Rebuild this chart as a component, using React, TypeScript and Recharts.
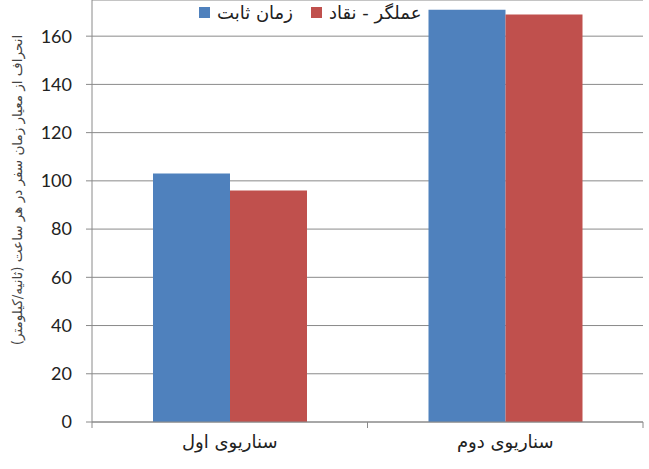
import { Bar, BarChart, CartesianGrid, XAxis, YAxis } from 'recharts'

const scenarios = ['سناریوی اول', 'سناریوی دوم']
const fixedTime = [103, 171]
const actorCritic = [96, 169]
const yTicks = [0, 20, 40, 60, 80, 100, 120, 140, 160]

const seriesNames = ['زمان ثابت', 'عملگر - نقاد']
const seriesColors = ['#4F81BD', '#C0504D']
const yLabel = 'انحراف از معیار زمان سفر در هر ساعت  (ثانیه/کیلومتر)'

const data = scenarios.map((name, i) => ({ name, fixed: fixedTime[i], ac: actorCritic[i] }))

const gridColor = '#8a8a8a'
const persianFont = '"DejaVu Sans", sans-serif'

function CategoryTick({ x, y, payload, index, visibleTicksCount, width }: any) {
  const half = payload?.offset ?? width / (2 * visibleTicksCount)
  const isLast = index === visibleTicksCount - 1
  return (
    <g>
      <line x1={x - half} x2={x - half} y1={y} y2={y + 6} stroke={gridColor} />
      {isLast && <line x1={x + half} x2={x + half} y1={y} y2={y + 6} stroke={gridColor} />}
      <text x={x} y={y + 13} dy="0.71em" textAnchor="middle" direction="rtl"
        fontSize={18} fontFamily={persianFont} fill="#222">
        {payload.value}
      </text>
    </g>
  )
}

function YLabel() {
  return (
    <text x={18} y={190} transform="rotate(-90 18 190)" textAnchor="middle" dominantBaseline="middle"
      direction="rtl" fontSize={13.5} fontFamily={persianFont} fill="#444">
      {yLabel}
    </text>
  )
}

function ChartLegend() {
  return (
    <div style={{ position: 'absolute', left: 199, top: 2, display: 'flex', alignItems: 'center',
      gap: 18, fontFamily: persianFont, fontSize: 18, color: '#222' }}>
      {seriesNames.map((n, i) => (
        <div key={n} style={{ display: 'flex', alignItems: 'center', gap: 7 }}>
          <span style={{ width: 11, height: 11, background: seriesColors[i], display: 'inline-block' }} />
          <span style={{ direction: 'rtl' }}>{n}</span>
        </div>
      ))}
    </div>
  )
}

function App() {
  return (
    <div style={{ position: 'absolute', left: 0, top: 0, width: 649, height: 469, background: '#fff' }}>
      <BarChart width={649} height={469} data={data} barGap={0}
        margin={{ top: 0, right: 6, bottom: 17, left: 0 }}>
        <CartesianGrid vertical={false} stroke={gridColor} />
        <XAxis dataKey="name" height={30} tickLine={false} tickSize={0} tickMargin={0}
          axisLine={{ stroke: gridColor }} tick={<CategoryTick />} interval={0} />
        <YAxis width={92} domain={[0, 175]} ticks={yTicks} tickSize={6} tickMargin={14}
          axisLine={{ stroke: gridColor }} tickLine={{ stroke: gridColor }}
          tick={{ fontSize: 18, fontFamily: 'Lato, sans-serif', fill: '#222' }}
          label={<YLabel />} />
        <Bar dataKey="fixed" name={seriesNames[0]} fill={seriesColors[0]} barSize={77} isAnimationActive={false} />
        <Bar dataKey="ac" name={seriesNames[1]} fill={seriesColors[1]} barSize={77} isAnimationActive={false} />
      </BarChart>
      <ChartLegend />
    </div>
  )
}

export default App
